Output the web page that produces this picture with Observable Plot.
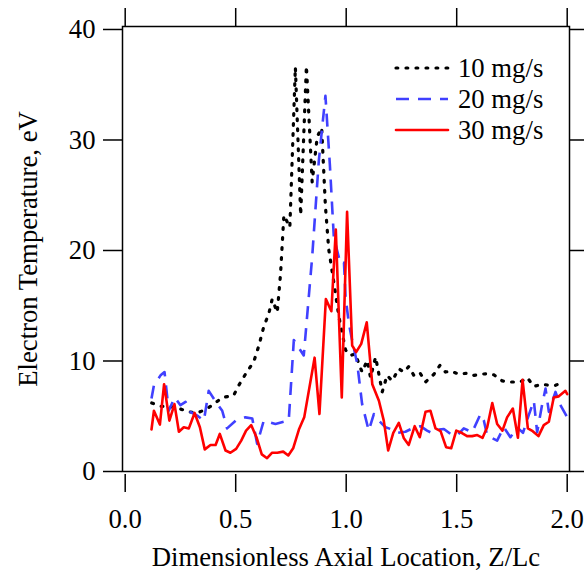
<!DOCTYPE html>
<html>
<head>
<meta charset="utf-8">
<script src="https://cdn.jsdelivr.net/npm/d3@7"></script>
<script src="https://cdn.jsdelivr.net/npm/@observablehq/plot@0.6"></script>
<style>
  html, body { margin: 0; padding: 0; background: white; }
  #chart { position: relative; width: 584px; height: 570px; }
</style>
</head>
<body>
<div id="chart"></div>
<script>
// ---- data ----
const seriesNames = ["10 mg/s", "20 mg/s", "30 mg/s"];
const xTicks = [0, 0.5, 1.0, 1.5, 2.0];
const yTicks = [0, 10, 20, 30, 40];
const xLabel = "Dimensionless Axial Location, Z/Lc";
const yLabel = "Electron Temperature, eV";

const x10 = [0.12,0.16,0.20,0.243,0.288,0.326,0.363,0.401,0.439,0.47,0.491,0.514,0.544,0.582,0.605,0.627,0.65,0.665,0.688,0.703,0.718,0.745,0.77,0.794,0.82,0.846,0.869,0.889,0.906,0.921,0.945,0.967,0.982,0.997,1.019,1.042,1.057,1.072,1.095,1.11,1.133,1.148,1.163,1.185,1.208,1.238,1.261,1.283,1.309,1.336,1.359,1.397,1.424,1.449,1.472,1.51,1.547,1.578,1.608,1.638,1.668,1.706,1.744,1.789,1.819,1.849,1.887,1.917,1.947,1.97];
const y10 = [6.2,5.9,5.9,5.7,5.4,5.3,5.6,6.1,6.7,6.8,6.9,7.8,8.8,9.95,11.4,13.1,14.3,15.6,14.4,17.9,23.2,22.1,36.6,23.2,36.7,26.2,30.3,31.1,24.0,20.1,17.0,14.0,12.5,11.0,10.5,10.65,9.75,9.0,10.05,8.5,10.35,8.8,7.2,8.7,8.2,9.3,9.0,9.5,8.6,8.85,8.1,8.8,9.6,9.0,9.1,8.8,8.9,8.7,8.8,8.85,8.75,8.2,8.1,8.1,8.5,7.7,7.9,7.8,7.8,8.0];

const x20 = [0.119,0.13,0.16,0.178,0.197,0.224,0.25,0.273,0.295,0.33,0.356,0.378,0.41,0.439,0.461,0.5,0.544,0.575,0.597,0.627,0.68,0.718,0.74,0.763,0.808,0.846,0.876,0.906,0.926,0.944,0.974,0.99,0.997,1.012,1.027,1.05,1.072,1.102,1.125,1.148,1.178,1.2,1.231,1.268,1.299,1.336,1.366,1.381,1.42,1.442,1.472,1.502,1.532,1.57,1.608,1.623,1.638,1.683,1.713,1.743,1.774,1.8,1.826,1.849,1.864,1.887,1.902,1.917,1.947,1.967,2.0];
const y20 = [6.6,7.8,8.7,9.0,5.5,6.7,6.0,6.3,5.4,5.0,4.6,7.3,6.3,5.5,3.9,4.6,4.9,4.8,2.5,4.6,4.3,4.5,4.6,11.9,10.5,19.4,28.1,34.0,27.8,21.2,18.8,18.9,15.8,13.4,11.85,9.75,6.1,3.7,5.2,4.6,4.0,3.85,3.5,3.6,3.9,4.1,3.7,3.55,3.8,3.85,3.4,3.25,3.9,3.55,5.2,4.6,3.25,2.8,4.0,3.1,4.0,3.5,5.1,6.4,3.55,6.1,7.5,5.4,7.2,6.1,4.9];

const x30 = [0.119,0.13,0.157,0.176,0.2,0.223,0.243,0.265,0.288,0.314,0.338,0.36,0.386,0.409,0.428,0.454,0.476,0.502,0.525,0.547,0.57,0.594,0.618,0.642,0.665,0.688,0.715,0.738,0.76,0.786,0.81,0.857,0.879,0.908,0.933,0.953,0.98,1.004,1.027,1.045,1.068,1.093,1.118,1.148,1.17,1.19,1.213,1.238,1.261,1.283,1.31,1.333,1.359,1.381,1.404,1.427,1.452,1.475,1.498,1.522,1.547,1.57,1.593,1.617,1.638,1.661,1.683,1.707,1.728,1.754,1.777,1.798,1.822,1.844,1.87,1.894,1.917,1.939,1.962,1.992,2.0];
const y30 = [3.8,5.5,4.25,7.9,4.6,6.1,3.6,4.0,3.9,5.3,4.0,2.0,2.4,2.4,3.4,1.9,1.7,2.05,2.8,3.7,4.2,3.1,1.55,1.2,1.7,1.7,1.8,1.45,2.1,3.8,4.9,10.3,5.2,15.6,14.5,21.9,6.7,23.5,11.4,10.8,11.55,13.5,7.9,6.4,4.6,1.9,3.5,4.4,3.0,2.4,4.1,3.1,5.4,5.5,3.9,3.65,2.2,2.1,3.7,3.5,3.2,3.2,3.3,3.05,4.0,6.2,4.3,3.7,4.9,5.7,3.05,8.3,3.9,3.65,3.2,4.2,4.5,6.7,6.8,7.3,7.0];

// ---- styles ----
const styles = [
  {stroke: "black", strokeWidth: 3.2, strokeDasharray: "1.8,8.2", strokeLinecap: "round"},
  {stroke: "#4040ff", strokeWidth: 2.6, strokeDasharray: "13,9", strokeLinecap: "butt"},
  {stroke: "#ff0000", strokeWidth: 2.6, strokeLinecap: "round"}
];

const toRows = (xs, ys) => xs.map((x, i) => ({x, y: ys[i]}));
const series = [toRows(x10, y10), toRows(x20, y20), toRows(x30, y30)];

const fontFamily = "'Liberation Serif', 'Times New Roman', Times, serif";
const fmt = d => d.toFixed(1);
const blank = () => "";

const plot = Plot.plot({
  width: 584,
  height: 570,
  marginLeft: 122,
  marginRight: 15,
  marginTop: 26,
  marginBottom: 99,
  style: {fontFamily, fontSize: "26.7px", background: "white", color: "black", overflow: "visible"},
  x: {domain: [-0.0122, 2.0104]},
  y: {domain: [0, 40.27]},
  marks: [
    Plot.frame({stroke: "black", strokeWidth: 1.5}),
    Plot.axisX(xTicks, {anchor: "bottom", tickSize: 18, tickPadding: 17, dy: 3, tickFormat: fmt, label: null, strokeWidth: 1.5, fill: "black"}),
    Plot.axisX(xTicks, {anchor: "top", tickSize: 19, tickFormat: blank, label: null, strokeWidth: 1.5}),
    Plot.axisY(yTicks, {anchor: "left", tickSize: 19, tickPadding: 8, tickFormat: d => String(d), label: null, strokeWidth: 1.5, fill: "black"}),
    Plot.axisY(yTicks, {anchor: "right", tickSize: 16, tickFormat: blank, label: null, strokeWidth: 1.5}),
    Plot.text([xLabel], {frameAnchor: "bottom", dy: 85.5, text: d => d, lineAnchor: "middle", textAnchor: "middle", fill: "black"}),
    Plot.text([yLabel], {frameAnchor: "left", dx: -94, rotate: -90, text: d => d, lineAnchor: "middle", textAnchor: "middle", fill: "black"}),
    ...series.map((rows, i) => Plot.line(rows, {x: "x", y: "y", ...styles[i]}))
  ]
});

document.getElementById("chart").appendChild(plot);

// ---- legend (inside the plot area, top right) ----
const svg = d3.select(plot);
const lg = svg.append("g")
  .attr("font-family", fontFamily)
  .attr("font-size", "26.7px")
  .attr("text-anchor", "start");
seriesNames.forEach((name, i) => {
  const yy = 68 + i * 31;
  const s = styles[i];
  lg.append("line")
    .attr("x1", 396).attr("x2", 448).attr("y1", yy).attr("y2", yy)
    .attr("stroke", s.stroke).attr("stroke-width", s.strokeWidth)
    .attr("stroke-dasharray", s.strokeDasharray || null)
    .attr("stroke-linecap", s.strokeLinecap);
  lg.append("text")
    .attr("x", 458).attr("y", yy).attr("dy", "0.33em")
    .attr("text-anchor", "start")
    .attr("fill", "black")
    .text(name);
});
</script>
</body>
</html>
